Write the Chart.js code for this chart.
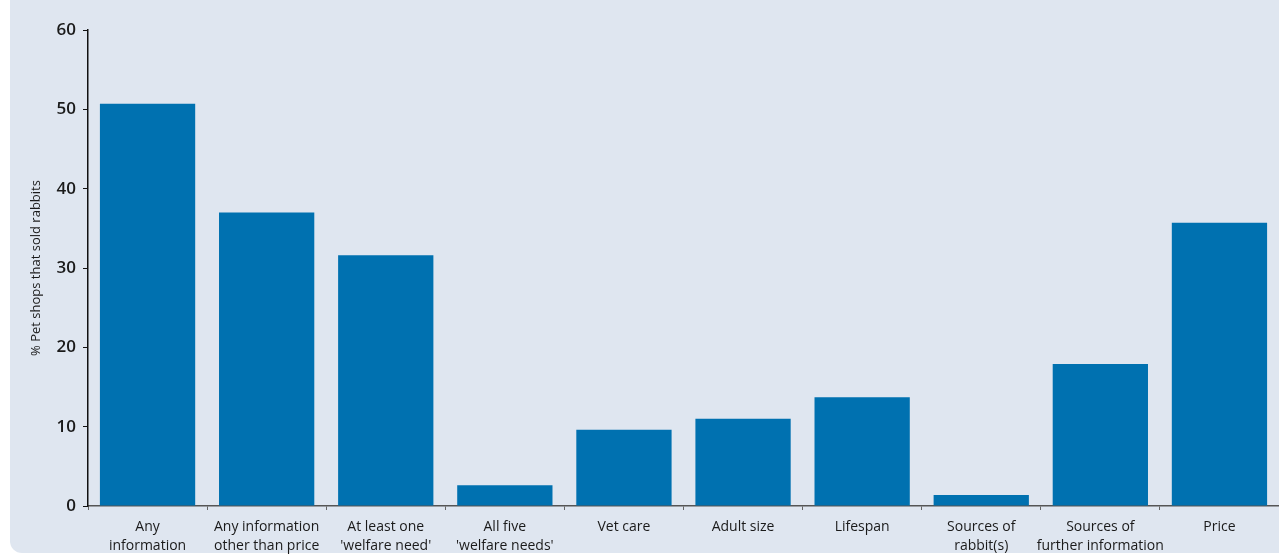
<!DOCTYPE html>
<html>
<head>
<meta charset="utf-8">
<script src="https://cdn.jsdelivr.net/npm/chart.js@4"></script>
<style>
  html, body { margin: 0; padding: 0; background: #ffffff; }
  #panel {
    position: absolute; left: 10px; top: 0; width: 1269px; height: 553px;
    background: #dfe6f0; border-bottom-left-radius: 12px;
  }
  #wrap { position: absolute; left: 0; top: 0; width: 1279px; height: 555px; }
</style>
</head>
<body>
<div id="panel"></div>
<div id="wrap"><canvas id="rabbitChart" width="1279" height="555"></canvas></div>
<script>
// info displayed at point of purchase, % of pet shops that sold rabbits
const categories = [
    ['Any', 'information'],
    ['Any information', 'other than price'],
    ['At least one', "'welfare need'"],
    ['All five', "'welfare needs'"],
    ['Vet care'],
    ['Adult size'],
    ['Lifespan'],
    ['Sources of', 'rabbit(s)'],
    ['Sources of', 'further information'],
    ['Price']
];
const shopPercent = [50.7, 37.0, 31.6, 2.6, 9.6, 11.0, 13.7, 1.4, 17.9, 35.7];
const yTicks = [0, 10, 20, 30, 40, 50, 60];

const FONT = '"Open Sans", "DejaVu Sans", sans-serif';

const ctx = document.getElementById('rabbitChart');
new Chart(ctx, {
    type: 'bar',
    data: {
        labels: categories,
        datasets: [{
            label: '% Pet shops that sold rabbits',
            data: shopPercent,
            backgroundColor: '#0071b0',
            barPercentage: 0.8,
            categoryPercentage: 1.0,
        }],
    },
    options: {
        responsive: false,
        animation: false,
        layout: { padding: { top: 30, right: 0, left: 0, bottom: 0 } },
        plugins: {
            legend: { display: false },
            tooltip: { enabled: false },
        },
        scales: {
            x: {
                grid: {
                    offset: true,
                    drawOnChartArea: false,
                    drawTicks: true,
                    tickLength: 4,
                    color: '#666666',
                },
                border: { color: '#555555', width: 1.5 },
                ticks: {
                    color: '#1a1a1a',
                    font: { family: FONT, size: 14, lineHeight: 1.35 },
                    padding: 8,
                    maxRotation: 0,
                    autoSkip: false,
                },
                afterFit: (scale) => { scale.height = 49; },
            },
            y: {
                min: 0,
                max: 60,
                afterBuildTicks: (scale) => { scale.ticks = yTicks.map(v => ({ value: v })); },
                grid: {
                    drawOnChartArea: false,
                    drawTicks: true,
                    tickLength: 5,
                    color: '#111111',
                },
                border: { color: '#111111', width: 1.5 },
                ticks: {
                    color: '#1a1a1a',
                    font: { family: FONT, size: 17, weight: '600' },
                    padding: 7,
                },
                title: {
                    display: true,
                    text: '% Pet shops that sold rabbits',
                    color: '#1a1a1a',
                    font: { family: FONT, size: 13 },
                    padding: { top: 28, bottom: 8 },
                },
                afterFit: (scale) => { scale.width = 88; },
            },
        },
    },
});
</script>
</body>
</html>
